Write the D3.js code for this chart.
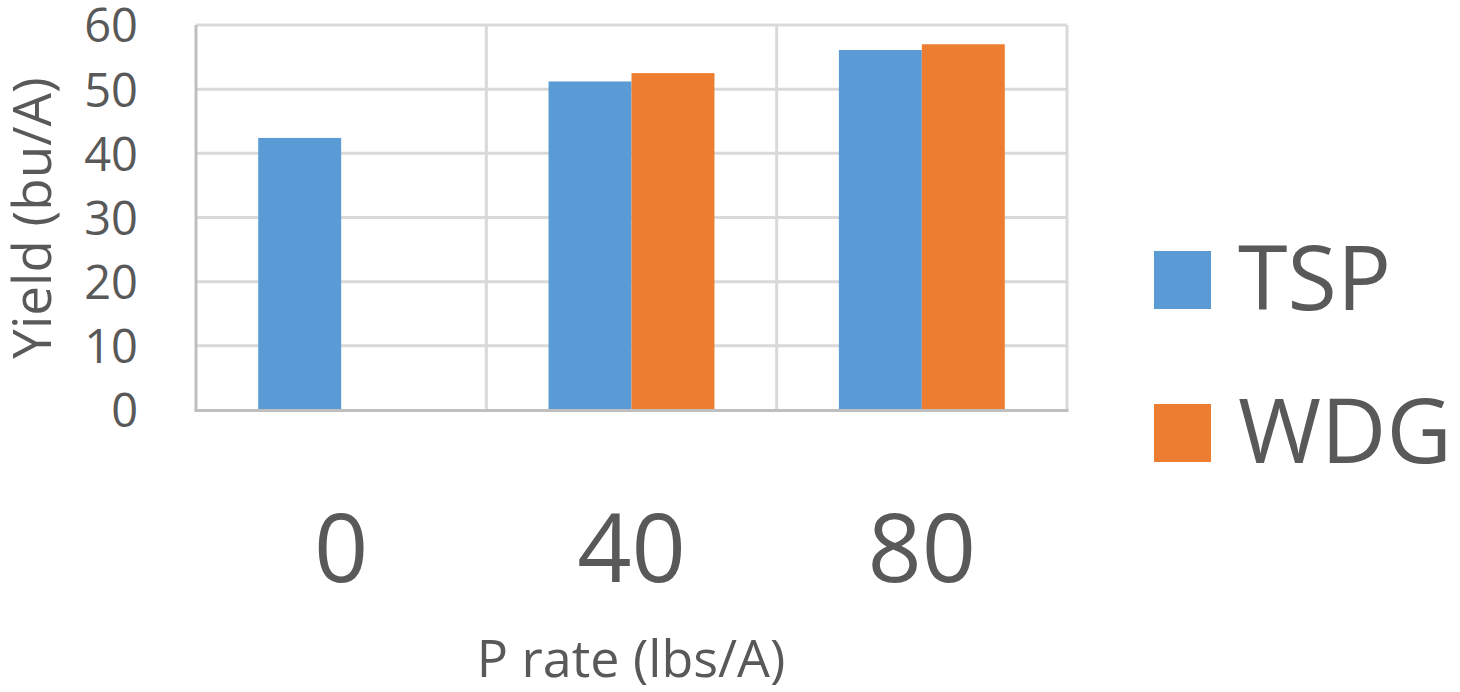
<!DOCTYPE html>
<html>
<head>
<meta charset="utf-8">
<script src="https://cdn.jsdelivr.net/npm/d3@7"></script>
<style>
  html, body { margin: 0; padding: 0; background: #fff; }
  svg { display: block; }
  text { font-family: "Open Sans", "Noto Sans", sans-serif; fill: #595959; }
</style>
</head>
<body>
<svg id="chart" width="1460" height="692"></svg>
<script>
const categories = ["0", "40", "80"];
const seriesNames = ["TSP", "WDG"];
const tspValues = [42.4, 51.2, 56.1];
const wdgValues = [null, 52.5, 57.0];
const yTicks = [0, 10, 20, 30, 40, 50, 60];
const colors = ["#5B9BD5", "#ED7D31"];
const xTitle = "P rate (lbs/A)";
const yTitle = "Yield (bu/A)";

const seriesValues = [tspValues, wdgValues];
const svg = d3.select("#chart");

const plot = { left: 196, right: 1067, top: 25, bottom: 410 };

const x0 = d3.scaleBand().domain(categories).range([plot.left, plot.right]).padding(0);
const x1 = d3.scaleBand().domain(seriesNames).range([0, x0.bandwidth()])
  .paddingInner(0).paddingOuter(0.75);
const y = d3.scaleLinear().domain([0, 60]).range([plot.bottom, plot.top]);

// horizontal gridlines
svg.append("g").selectAll("line").data(yTicks.filter(d => d > 0)).join("line")
  .attr("x1", plot.left).attr("x2", plot.right)
  .attr("y1", d => y(d)).attr("y2", d => y(d))
  .attr("stroke", "#D9D9D9").attr("stroke-width", 3);

// vertical category separators
const seps = categories.slice(1).map(c => x0(c)).concat([plot.right]);
svg.append("g").selectAll("line").data(seps).join("line")
  .attr("x1", d => d).attr("x2", d => d)
  .attr("y1", plot.top).attr("y2", plot.bottom)
  .attr("stroke", "#D9D9D9").attr("stroke-width", 3);

// bars
const barData = [];
categories.forEach((c, i) => {
  seriesNames.forEach((s, j) => {
    const v = seriesValues[j][i];
    if (v != null) barData.push({ c, s, v, color: colors[j] });
  });
});
svg.append("g").selectAll("rect").data(barData).join("rect")
  .attr("x", d => x0(d.c) + x1(d.s))
  .attr("width", x1.bandwidth())
  .attr("y", d => y(d.v))
  .attr("height", d => y(0) - y(d.v))
  .attr("fill", d => d.color);

// left axis line
svg.append("line")
  .attr("x1", plot.left).attr("x2", plot.left)
  .attr("y1", plot.top).attr("y2", plot.bottom + 1.5)
  .attr("stroke", "#BFBFBF").attr("stroke-width", 3);
// bottom axis line
svg.append("line")
  .attr("x1", plot.left - 1.5).attr("x2", plot.right + 1.5)
  .attr("y1", plot.bottom + 0.5).attr("y2", plot.bottom + 0.5)
  .attr("stroke", "#BFBFBF").attr("stroke-width", 3);

// y tick labels
const yAxis = d3.axisLeft(y).tickValues(yTicks).tickSize(0).tickPadding(0);
const yg = svg.append("g").attr("transform", `translate(138,0)`).call(yAxis);
yg.select(".domain").remove();
yg.selectAll("text")
  .attr("font-size", 47).attr("fill", "#595959")
  .attr("font-family", "'Open Sans', 'Noto Sans', sans-serif")
  .attr("dy", "0.36em");

// x tick labels
const xAxis = d3.axisBottom(x0).tickSize(0).tickPadding(0);
const xg = svg.append("g").attr("transform", `translate(0,582)`).call(xAxis);
xg.select(".domain").remove();
xg.selectAll("text")
  .attr("font-size", 95).attr("fill", "#595959")
  .attr("font-family", "'Open Sans', 'Noto Sans', sans-serif")
  .attr("dy", 0).attr("y", 0);

// axis titles
svg.append("text")
  .attr("x", 631).attr("y", 677)
  .attr("text-anchor", "middle").attr("font-size", 52)
  .text(xTitle);

svg.append("text")
  .attr("transform", "translate(51,218) rotate(-90)")
  .attr("text-anchor", "middle").attr("font-size", 53)
  .text(yTitle);

// legend
const legendY = [251, 404];
const lg = svg.append("g").selectAll("g").data(seriesNames).join("g")
  .attr("transform", (d, i) => `translate(1154,${legendY[i]})`);
lg.append("rect").attr("width", 57).attr("height", 58)
  .attr("fill", (d, i) => colors[i]);
lg.append("text").attr("x", 84).attr("y", 59)
  .attr("font-size", 90).text(d => d);
</script>
</body>
</html>
